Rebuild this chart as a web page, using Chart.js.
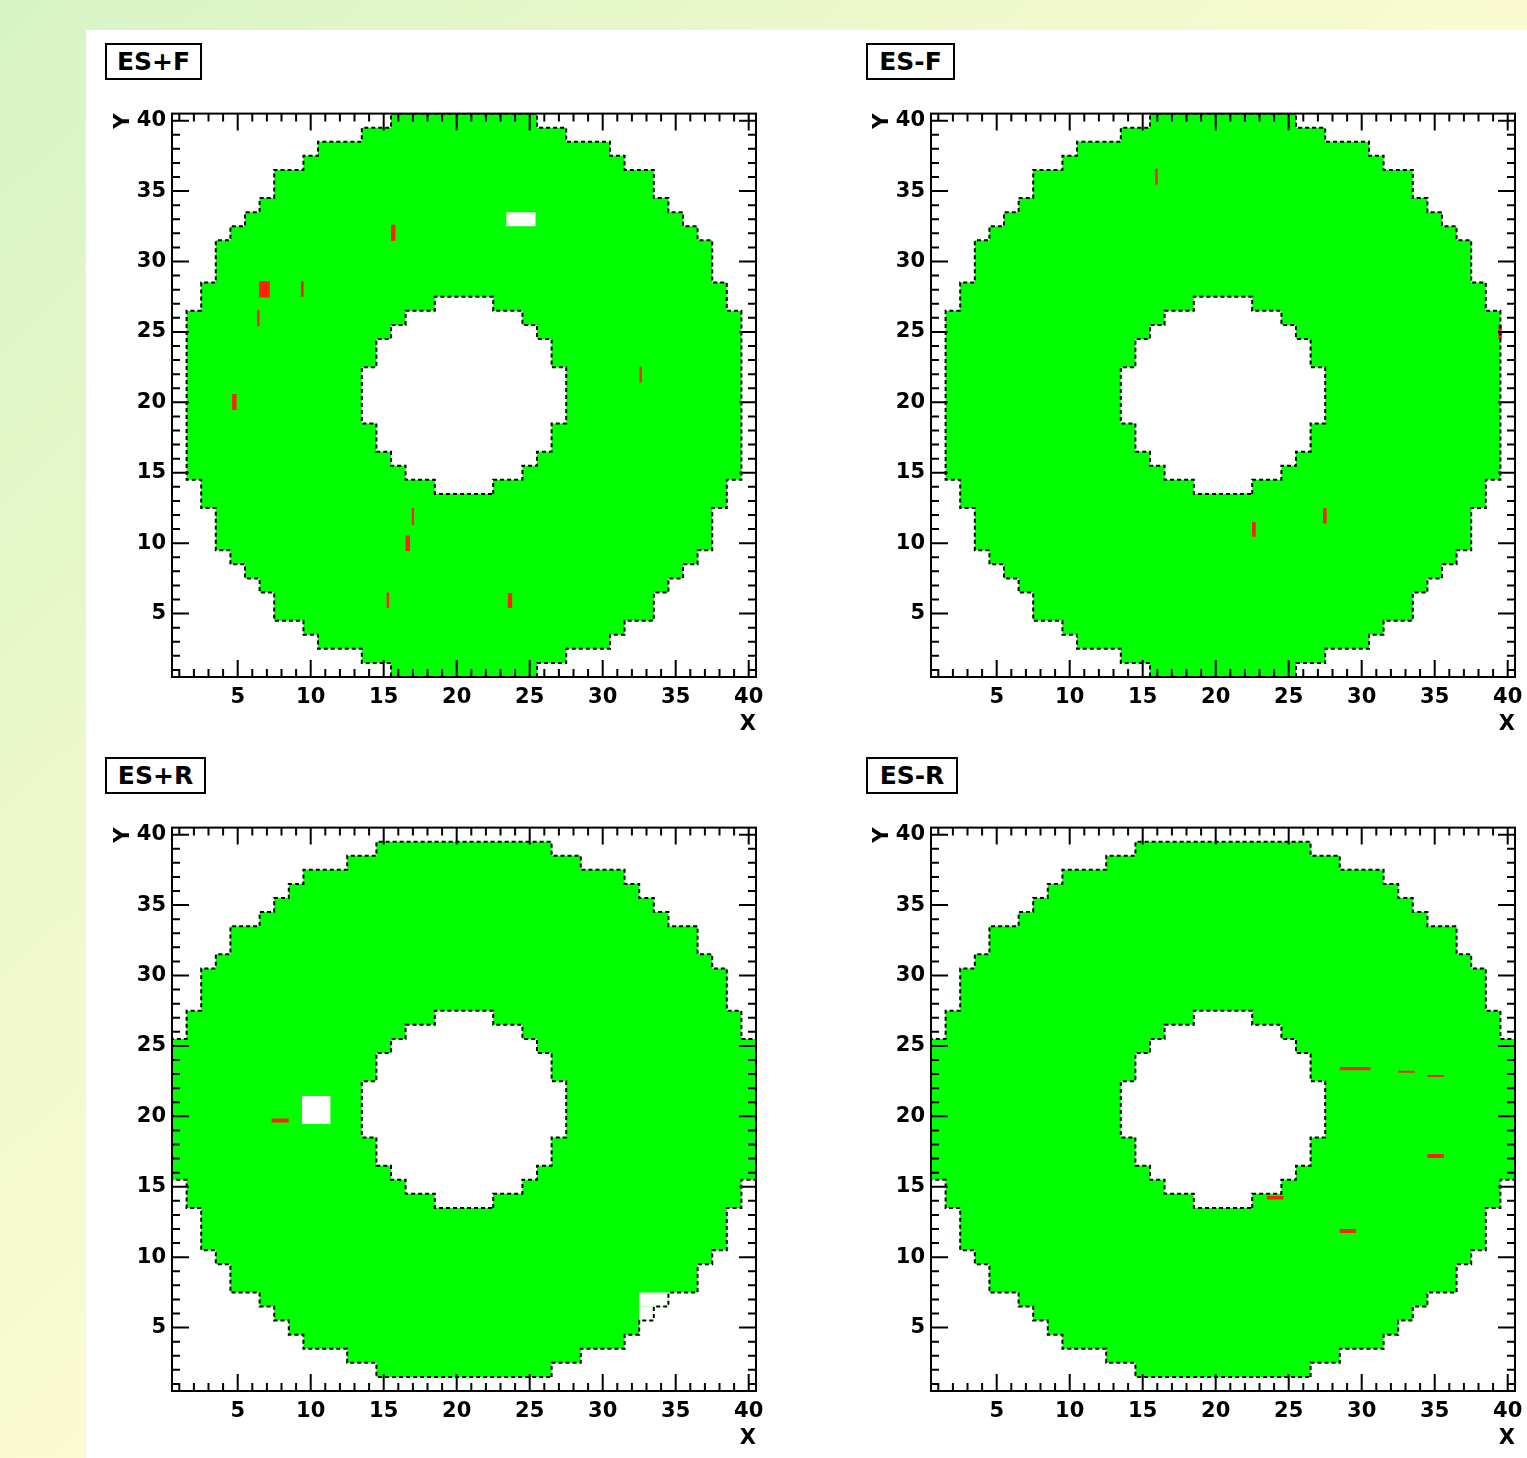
<!DOCTYPE html>
<html>
<head>
<meta charset="utf-8">
<script src="https://cdn.jsdelivr.net/npm/chart.js@4.4.1/dist/chart.umd.min.js"></script>
<style>
    body {
        margin: 0;
        width: 1527px;
        height: 1458px;
        overflow: hidden;
        position: relative;
        background: linear-gradient(to bottom right, #d6f4c6 0%, #ecf8cb 28%, #fbfbd1 52%, #fefcd4 100%);
        font-family: "DejaVu Sans", sans-serif;
    }
    .sheet {
        position: absolute;
        left: 86px;
        top: 30px;
        right: 0;
        bottom: 0;
        background: #ffffff;
    }
    canvas {
        position: absolute;
    }
    .tag {
        position: absolute;
        box-sizing: border-box;
        height: 37px;
        border: 2px solid #000;
        background: #fff;
        font: bold 25px "DejaVu Sans", sans-serif;
        line-height: 33px;
        text-align: center;
        color: #000;
    }
</style>
</head>
<body>
<div class="sheet"></div>

<div class="tag" style="left:105px; top:43px; width:97px;">ES+F</div>
<div class="tag" style="left:866px; top:43px; width:89px;">ES-F</div>
<div class="tag" style="left:105px; top:757px; width:101px;">ES+R</div>
<div class="tag" style="left:866px; top:757px; width:92px;">ES-R</div>

<canvas id="esPlusF" width="700" height="642" style="left:86px; top:95px;"></canvas>
<canvas id="esMinusF" width="686" height="642" style="left:845px; top:95px;"></canvas>
<canvas id="esPlusR" width="700" height="642" style="left:86px; top:809px;"></canvas>
<canvas id="esMinusR" width="686" height="642" style="left:845px; top:809px;"></canvas>

<script>
// sensor rows 1..40 (index 0 = row 1)
const rows = [
    1, 2, 3, 4, 5, 6, 7, 8, 9, 10, 11, 12, 13, 14, 15, 16, 17, 18, 19, 20,
    21, 22, 23, 24, 25, 26, 27, 28, 29, 30, 31, 32, 33, 34, 35, 36, 37, 38, 39, 40,
];
const tickLabels = [5, 10, 15, 20, 25, 30, 35, 40];

// front planes: first / last filled column in each row
const frontFirst = [
    16, 14, 11, 10, 8, 8, 7, 6, 5, 4, 4, 4, 3, 3, 2, 2, 2, 2, 2, 2,
    2, 2, 2, 2, 2, 2, 3, 3, 4, 4, 4, 5, 6, 7, 8, 8, 10, 11, 14, 16,
];
const frontLast = [
    25, 27, 30, 31, 33, 33, 34, 35, 36, 37, 37, 37, 38, 38, 39, 39, 39, 39, 39, 39,
    39, 39, 39, 39, 39, 39, 38, 38, 37, 37, 37, 36, 35, 34, 33, 33, 31, 30, 27, 25,
];

// rear planes (ladders turned by 90 degrees), null = empty row
const rearFirst = [
    null, 15, 13, 10, 9, 8, 7, 5, 5, 4, 3, 3, 3, 2, 2, 1, 1, 1, 1, 1,
    1, 1, 1, 1, 1, 2, 2, 3, 3, 3, 4, 5, 5, 7, 8, 9, 10, 13, 15, null,
];
const rearLast = [
    null, 26, 28, 31, 32, 33, 34, 36, 36, 37, 38, 38, 38, 39, 39, 40, 40, 40, 40, 40,
    40, 40, 40, 40, 40, 39, 39, 38, 38, 38, 37, 36, 36, 34, 33, 32, 31, 28, 26, null,
];

// central hole, rows 14..27
const holeRows = [14, 15, 16, 17, 18, 19, 20, 21, 22, 23, 24, 25, 26, 27];
const holeFirst = [19, 17, 16, 15, 15, 14, 14, 14, 14, 15, 15, 16, 17, 19];
const holeLast = [22, 24, 25, 26, 26, 27, 27, 27, 27, 26, 26, 25, 24, 22];

// boxes [xFrom, xTo, yFrom, yTo]
const esPlusFRed = [
    [15.5, 15.8, 31.45, 32.6],
    [6.47, 7.2, 27.45, 28.6],
    [9.33, 9.52, 27.5, 28.6],
    [6.33, 6.5, 25.4, 26.55],
    [4.62, 4.92, 19.45, 20.6],
    [16.92, 17.08, 11.3, 12.5],
    [16.5, 16.8, 9.45, 10.55],
    [15.2, 15.37, 5.4, 6.5],
    [23.5, 23.8, 5.4, 6.45],
    [32.52, 32.68, 21.4, 22.55],
];
const esPlusFEmpty = [[23.4, 25.4, 32.5, 33.5]];

const esMinusFRed = [
    [15.86, 16.03, 35.45, 36.6],
    [22.49, 22.74, 10.45, 11.5],
    [27.35, 27.6, 11.4, 12.5],
    [39.36, 39.6, 24.5, 25.5],
];
const esMinusFEmpty = [];

const esPlusRRed = [[7.32, 8.49, 19.57, 19.85]];
const esPlusREmpty = [
    [9.4, 11.35, 19.45, 21.45],
    [32.5, 34.5, 6.5, 7.5],
    [32.5, 33.5, 5.5, 6.5],
];

const esMinusRRed = [
    [28.5, 30.6, 23.27, 23.51],
    [32.5, 33.63, 23.09, 23.23],
    [34.5, 35.64, 22.8, 22.94],
    [34.5, 35.64, 17.05, 17.33],
    [23.5, 24.64, 14.09, 14.35],
    [28.5, 29.6, 11.71, 12.0],
];
const esMinusREmpty = [];

const GREEN = "#00ff00";
const RED = "#ff2200";
const FONT = "'DejaVu Sans', sans-serif";

// staircase outline around the filled cells of each row
function outline(rowList, first, last) {
    const right = [];
    const left = [];
    rowList.forEach((row, i) => {
        if (first[i] === null) return;
        right.push({ x: last[i] + 0.5, y: row - 0.5 }, { x: last[i] + 0.5, y: row + 0.5 });
        left.push({ x: first[i] - 0.5, y: row - 0.5 }, { x: first[i] - 0.5, y: row + 0.5 });
    });
    const points = right.concat(left.reverse());
    points.push(points[0]);
    return points;
}

function box(b) {
    return [
        { x: b[0], y: b[2] },
        { x: b[1], y: b[2] },
        { x: b[1], y: b[3] },
        { x: b[0], y: b[3] },
        { x: b[0], y: b[2] },
    ];
}

function filled(data, color, order) {
    return {
        data,
        showLine: true,
        fill: "shape",
        backgroundColor: color,
        borderColor: "rgba(0,0,0,0)",
        borderWidth: 0,
        pointRadius: 0,
        order,
    };
}

function dotted(data, order) {
    return {
        data,
        showLine: true,
        fill: false,
        borderColor: "#000",
        borderWidth: 2,
        borderDash: [4, 3],
        pointRadius: 0,
        order,
    };
}

// ROOT style ticks pointing inwards on all four sides
const rootFrame = {
    id: "rootFrame",
    afterDraw(chart) {
        const { ctx, chartArea: a, scales } = chart;
        ctx.save();
        ctx.strokeStyle = "#000";
        ctx.lineWidth = 2;
        ctx.beginPath();
        scales.x.ticks.forEach((t) => {
            const px = scales.x.getPixelForValue(t.value);
            const len = tickLabels.includes(t.value) ? 17 : 8;
            ctx.moveTo(px, a.bottom);
            ctx.lineTo(px, a.bottom - len);
            ctx.moveTo(px, a.top);
            ctx.lineTo(px, a.top + len);
        });
        scales.y.ticks.forEach((t) => {
            const py = scales.y.getPixelForValue(t.value);
            const len = tickLabels.includes(t.value) ? 17 : 8;
            ctx.moveTo(a.left, py);
            ctx.lineTo(a.left + len, py);
            ctx.moveTo(a.right, py);
            ctx.lineTo(a.right - len, py);
        });
        ctx.stroke();
        ctx.strokeRect(a.left, a.top, a.width, a.height);
        ctx.restore();
    },
};

function axis(name) {
    const horizontal = name === "x";
    return {
        type: "linear",
        min: 0.5,
        max: 40.5,
        grid: { display: false, drawTicks: false },
        border: { display: false },
        afterBuildTicks: (scale) => {
            scale.ticks = rows.map((v) => ({ value: v }));
        },
        afterFit: (scale) => {
            if (horizontal) scale.height = 60;
            else scale.width = 86;
        },
        ticks: {
            autoSkip: false,
            maxRotation: 0,
            padding: horizontal ? 8 : 6,
            color: "#000",
            font: { family: FONT, size: 21, weight: "bold" },
            callback: (value) => (tickLabels.includes(value) ? String(value) : ""),
        },
        title: {
            display: true,
            text: horizontal ? "X" : "Y",
            align: "end",
            color: "#000",
            font: { family: FONT, size: 21, weight: "bold" },
            padding: horizontal ? { top: 0, bottom: 0 } : { top: 25, bottom: 0 },
        },
    };
}

function drawPanel(canvasId, first, last, empty, red, rightPad) {
    const outer = outline(rows, first, last);
    const hole = outline(holeRows, holeFirst, holeLast);

    const datasets = [
        filled(outer, GREEN, 10),
        filled(hole, "#ffffff", 9),
        ...empty.map((b) => filled(box(b), "#ffffff", 8)),
        ...red.map((b) => filled(box(b), RED, 7)),
        dotted(outer, 1),
        dotted(hole, 0),
    ];

    const ctx = document.getElementById(canvasId).getContext("2d");
    new Chart(ctx, {
        type: "scatter",
        data: { datasets },
        options: {
            responsive: false,
            animation: false,
            events: [],
            layout: { padding: { top: 17, right: rightPad, left: 0, bottom: 0 } },
            plugins: {
                legend: { display: false },
                tooltip: { enabled: false },
            },
            scales: {
                x: axis("x"),
                y: axis("y"),
            },
        },
        plugins: [rootFrame],
    });
}

drawPanel("esPlusF", frontFirst, frontLast, esPlusFEmpty, esPlusFRed, 30);
drawPanel("esMinusF", frontFirst, frontLast, esMinusFEmpty, esMinusFRed, 16);
drawPanel("esPlusR", rearFirst, rearLast, esPlusREmpty, esPlusRRed, 30);
drawPanel("esMinusR", rearFirst, rearLast, esMinusREmpty, esMinusRRed, 16);
</script>
</body>
</html>
